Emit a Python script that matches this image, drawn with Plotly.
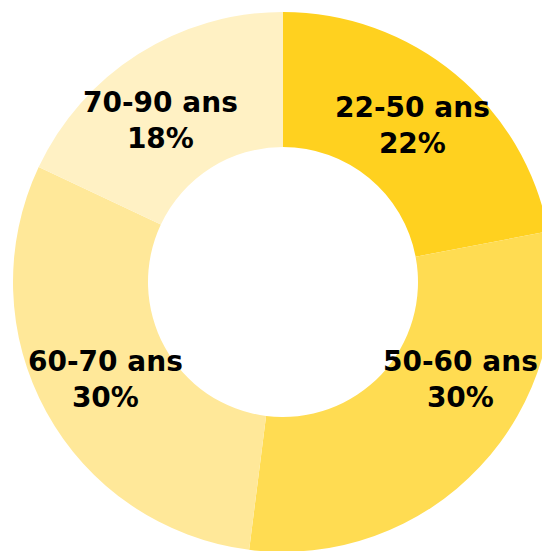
import math
import plotly.graph_objects as go

labels = ["22-50 ans", "50-60 ans", "60-70 ans", "70-90 ans"]
values = [22, 30, 30, 18]
colors = ["#FFD11F", "#FFDC52", "#FFE899", "#FFF1C4"]
# small angular nudges (degrees) applied to the label positions only
label_shift_deg = [0, -14.3, 0, -4.8]

W, H = 550, 551
# geometry of the ring in figure pixels (page body has an 8px margin)
dom_x = [5 / W, 545 / W]
dom_y = [7 / H, 547 / H]
cx = W * (dom_x[0] + dom_x[1]) / 2
cy = H * (1 - (dom_y[0] + dom_y[1]) / 2)
R = min(W * (dom_x[1] - dom_x[0]), H * (dom_y[1] - dom_y[0])) / 2
hole = 0.5
r_lab = R * (1 + hole) / 2

fig = go.Figure(go.Pie(
    labels=labels,
    values=values,
    hole=hole,
    sort=False,
    direction="clockwise",
    rotation=0,
    marker=dict(colors=colors, line=dict(width=0)),
    textinfo="none",
    domain=dict(x=dom_x, y=dom_y),
    showlegend=False,
    hoverinfo="label+percent",
))

total = sum(values)
cum = 0
annotations = []
for lab, v, sh in zip(labels, values, label_shift_deg):
    mid = (cum + v / 2) / total * 360 + sh
    cum += v
    th = math.radians(mid)
    px = cx + r_lab * math.sin(th)
    py = cy - r_lab * math.cos(th)
    annotations.append(dict(
        x=px / W, y=1 - py / H, xref="paper", yref="paper",
        xanchor="center", yanchor="middle", showarrow=False,
        text=f"<b>{lab}<br>{round(v / total * 100)}%</b>",
        font=dict(family="DejaVu Sans", size=28, color="#000000"),
        align="center",
    ))

fig.update_layout(
    width=W, height=H,
    margin=dict(l=0, r=0, t=0, b=0),
    paper_bgcolor="white",
    plot_bgcolor="white",
    annotations=annotations,
)
fig.write_html("out.html")
